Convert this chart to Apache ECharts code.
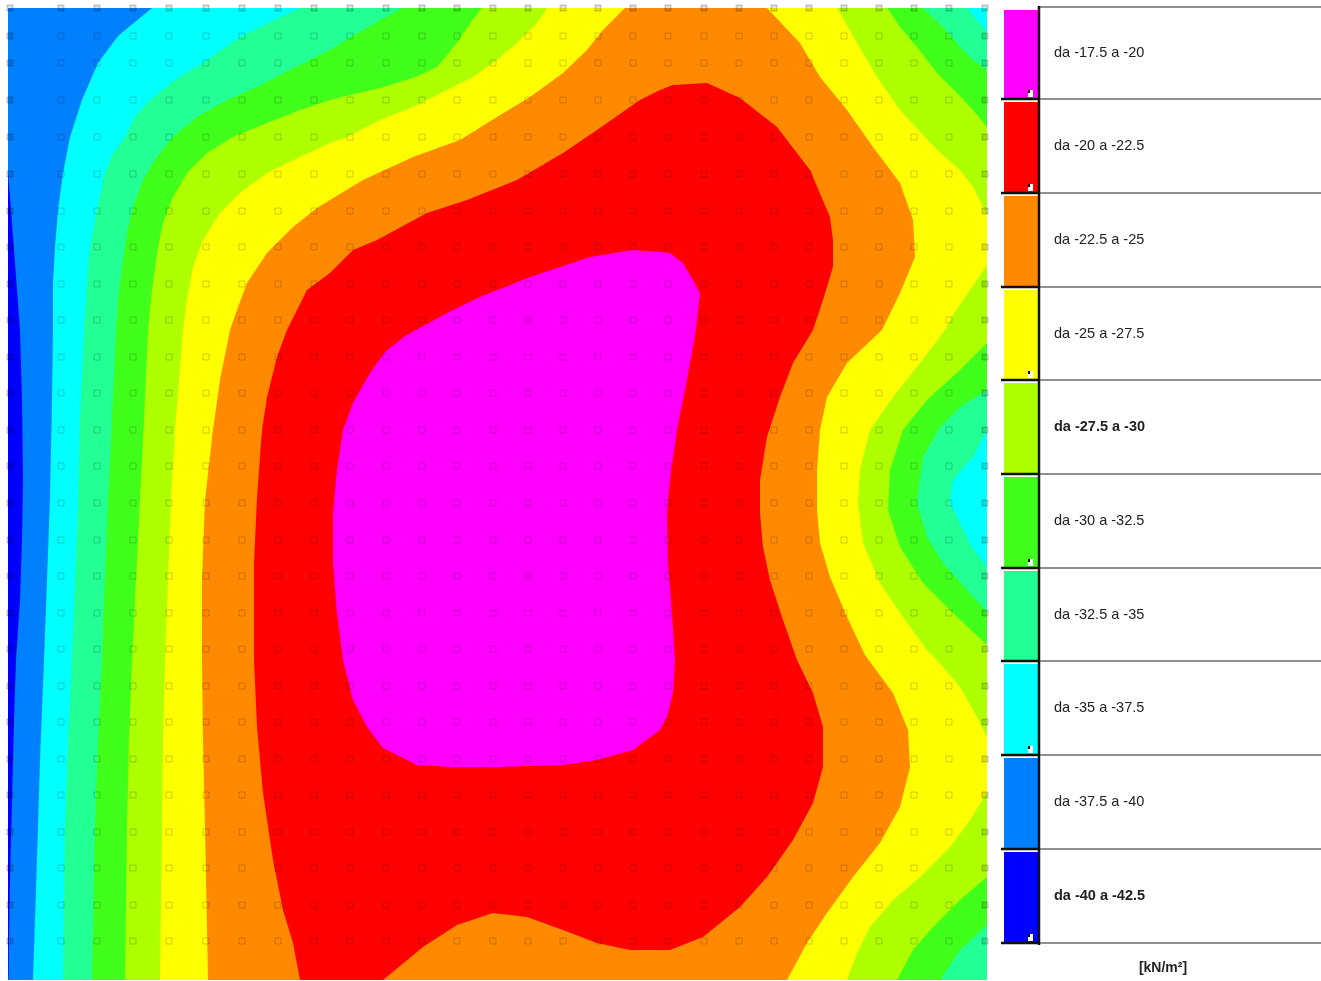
<!DOCTYPE html>
<html>
<head>
<meta charset="utf-8">
<title>Pressioni [kN/m²]</title>
<script src="https://cdn.jsdelivr.net/npm/echarts@6.0.0/dist/echarts.min.js"></script>
<style>
  html, body { margin: 0; padding: 0; background: #fff; }
  #main { width: 1321px; height: 981px; }
</style>
</head>
<body>
<div id="main"></div>
<script>
// bands, lowest value first
const bandColors = ['#0000ff', '#0080ff', '#00ffff', '#22ff95', '#40ff1a', '#aeff00', '#ffff00', '#ff8a00', '#ff0000', '#ff00ff'];
const bandLabels = ['da -40 a -42.5', 'da -37.5 a -40', 'da -35 a -37.5', 'da -32.5 a -35', 'da -30 a -32.5',
  'da -27.5 a -30', 'da -25 a -27.5', 'da -22.5 a -25', 'da -20 a -22.5', 'da -17.5 a -20'];
const boldBands = [0, 5];
const flaggedBands = [0, 2, 4, 6, 8, 9];
const unitLabel = '[kN/m²]';

// plate outline (plate units, y downwards)
const plateX = [8, 987];
const plateY = [8, 980];

// iso lines, left branch read top -> bottom
const left40 = [[8, 8], [8, 172], [11, 210], [14, 250], [17, 290], [20, 330], [22, 400], [23, 480], [22, 540], [20, 600],
  [16, 660], [14, 720], [12, 800], [10, 880], [9, 940], [8.5, 980]];
const left375 = [[152, 8], [135, 22], [118, 36], [98, 63], [82, 100], [70, 137], [63, 173], [58, 210], [55, 247], [53, 283],
  [53, 330], [52, 400], [50, 497], [47, 580], [44, 660], [40, 760], [38, 827], [35, 920], [33, 980]];
const left35 = [[300, 8], [270, 22], [240, 37], [203, 63], [175, 80], [150, 100], [135, 117], [125, 137], [112, 155],
  [105, 173], [97, 210], [90, 247], [87, 283], [84, 330], [80, 420], [78, 500], [75, 580], [72, 660], [68, 740], [65, 827], [63, 980]];
const left325 = [[402, 8], [363, 30], [330, 50], [290, 70], [257, 87], [227, 100], [197, 117], [173, 137], [157, 157],
  [143, 180], [133, 207], [127, 233], [122, 267], [118, 300], [116, 330], [112, 420], [108, 500], [105, 580], [102, 660],
  [98, 740], [95, 827], [92, 980]];
const left30 = [[482, 8], [470, 23], [457, 43], [437, 67], [413, 78], [380, 88], [350, 95], [330, 100], [300, 110],
  [267, 123], [233, 137], [207, 153], [187, 173], [173, 197], [163, 223], [157, 253], [152, 290], [148, 330], [144, 420],
  [140, 500], [136, 580], [132, 660], [129, 740], [127, 827], [125, 980]];
const left275 = [[547, 8], [537, 23], [517, 43], [497, 60], [473, 77], [447, 90], [413, 107], [380, 120], [347, 137],
  [330, 143], [300, 157], [267, 173], [240, 193], [220, 213], [203, 240], [193, 267], [187, 300], [183, 330], [175, 430],
  [171, 500], [168, 580], [165, 660], [163, 740], [162, 827], [160, 980]];
const left25 = [[625, 8], [603, 30], [587, 50], [563, 73], [530, 97], [497, 117], [460, 140], [413, 157], [363, 180],
  [330, 200], [317, 208], [293, 227], [267, 253], [247, 283], [237, 310], [230, 330], [220, 380], [213, 430], [205, 500],
  [202, 580], [202, 660], [203, 740], [205, 827], [208, 980]];

// right branch read top -> bottom (runs along the edge where a band touches it)
const rightEdge = [[987, 8], [987, 980]];
const right35 = [[967, 8], [987, 32], [987, 430], [973, 457], [953, 480], [950, 503], [960, 523], [972, 547], [987, 567], [987, 980]];
const right325 = [[923, 8], [943, 27], [960, 47], [973, 60], [987, 70], [987, 390], [960, 407], [940, 427], [923, 457],
  [917, 503], [927, 537], [943, 563], [967, 590], [987, 612], [987, 925], [960, 950], [940, 980]];
const right30 = [[887, 8], [900, 27], [917, 47], [937, 73], [957, 93], [973, 110], [987, 127], [987, 343], [960, 370],
  [927, 400], [903, 430], [890, 470], [888, 510], [900, 547], [923, 583], [953, 613], [987, 645], [987, 877], [960, 900],
  [933, 927], [913, 950], [897, 980]];
const right275 = [[837, 8], [857, 43], [877, 77], [900, 110], [937, 150], [960, 170], [973, 187], [987, 215], [987, 265],
  [970, 290], [953, 315], [945, 330], [920, 363], [893, 397], [870, 430], [860, 470], [858, 503], [863, 543], [880, 583],
  [903, 617], [927, 650], [937, 660], [960, 687], [977, 717], [987, 737], [987, 793], [970, 820], [950, 847], [920, 877],
  [893, 900], [870, 927], [857, 953], [847, 980]];
const right25 = [[767, 8], [783, 25], [800, 43], [820, 77], [847, 110], [873, 147], [900, 183], [913, 220], [915, 257],
  [900, 293], [882, 330], [847, 363], [827, 397], [820, 430], [817, 470], [817, 510], [820, 543], [830, 577], [847, 617],
  [865, 655], [893, 693], [908, 730], [910, 767], [900, 807], [880, 843], [853, 877], [827, 913], [807, 943], [787, 980]];

// closed iso lines
const ring225 = [[300, 980], [293, 943], [283, 910], [273, 860], [263, 793], [257, 727], [254, 660], [254, 563], [257, 497],
  [262, 430], [267, 397], [277, 357], [287, 330], [307, 290], [330, 273], [353, 250], [377, 240], [427, 213], [467, 200],
  [517, 180], [563, 153], [597, 130], [640, 100], [660, 90], [673, 85], [707, 83], [740, 98], [777, 127], [810, 170],
  [830, 217], [833, 240], [833, 267], [823, 300], [813, 330], [793, 363], [780, 397], [767, 437], [760, 480], [760, 513],
  [763, 547], [770, 580], [783, 620], [797, 660], [813, 693], [823, 727], [823, 767], [813, 803], [793, 840], [767, 877],
  [740, 907], [703, 937], [670, 950], [630, 950], [597, 943], [563, 930], [527, 917], [493, 913], [457, 925], [423, 947],
  [383, 980]];
const ring20 = [[425, 325], [447, 313], [480, 297], [530, 277], [590, 257], [633, 250], [660, 252], [670, 253], [683, 263],
  [693, 280], [700, 293], [696, 330], [687, 380], [677, 430], [670, 480], [667, 513], [668, 563], [672, 613], [675, 660],
  [673, 693], [667, 717], [660, 730], [633, 750], [597, 760], [563, 765], [497, 767], [453, 767], [417, 765], [383, 748],
  [367, 727], [353, 700], [343, 660], [337, 613], [333, 563], [333, 513], [337, 470], [343, 430], [353, 403], [370, 373],
  [385, 352], [405, 336]];

// mesh nodes
const nodeX = [10, 61, 97, 133, 169, 206, 242, 278, 314, 350, 386, 422, 457, 493, 528, 563, 598, 633, 668, 704, 739, 774,
  809, 844, 879, 914, 949, 985];
const nodeY = [8, 36, 63, 100, 137, 174, 211, 247, 284, 320, 357, 393, 430, 466, 503, 540, 576, 613, 649, 686, 722, 759,
  795, 832, 868, 905, 941];

// superlevel regions, painted from the lowest band up
const band = (left, right) => left.concat(right.slice().reverse());
const regions = [
  [[plateX[0], plateY[0]], [plateX[0], plateY[1]], [plateX[1], plateY[1]], [plateX[1], plateY[0]]],
  band(left40, rightEdge),
  band(left375, rightEdge),
  band(left35, right35),
  band(left325, right325),
  band(left30, right30),
  band(left275, right275),
  band(left25, right25),
  ring225,
  ring20
];

const innerNodes = [];
const edgeNodes = [];
nodeY.forEach((y, j) => nodeX.forEach((x, i) => {
  (j === 0 || i === 0 || i === nodeX.length - 1 ? edgeNodes : innerNodes).push([x, y]);
}));

const series = regions.map((pts, k) => ({
  type: 'custom',
  coordinateSystem: 'cartesian2d',
  silent: true,
  z: 1,
  data: [pts[0]],
  renderItem: (params, api) => ({
    type: 'polygon',
    shape: { points: pts.map(p => api.coord(p)) },
    style: { fill: bandColors[k] }
  })
}));
series.push({
  type: 'scatter', data: innerNodes, symbol: 'rect', symbolSize: 6, silent: true, clip: false, z: 5,
  itemStyle: { color: 'rgba(0,0,0,0)', borderColor: 'rgba(0,0,0,0.24)', borderWidth: 1 }
});
series.push({
  type: 'scatter', data: edgeNodes, symbol: 'rect', symbolSize: 6, silent: true, clip: false, z: 5,
  itemStyle: { color: 'rgba(0,0,0,0.16)', borderColor: 'rgba(0,0,0,0.28)', borderWidth: 1 }
});

// legend table
const rowLines = [7, 99, 193, 287, 380, 474, 568, 661, 755, 849, 943];
const font = '"Liberation Sans", Arial, sans-serif';
const graphic = [];
for (let i = 0; i < 10; i++) {
  const b = 9 - i;
  const y0 = rowLines[i], y1 = rowLines[i + 1];
  graphic.push({
    type: 'rect', shape: { x: 1004, y: y0 + 3, width: 34, height: y1 - y0 - 4 },
    style: { fill: bandColors[b] }
  });
  if (flaggedBands.includes(b)) {
    graphic.push({ type: 'rect', shape: { x: 1028, y: y1 - 9, width: 5, height: 7 }, style: { fill: '#fff' } });
    graphic.push({ type: 'rect', shape: { x: 1028, y: y1 - 9, width: 2, height: 3 }, style: { fill: '#000' } });
  }
  graphic.push({
    type: 'text', x: 1054, y: (y0 + y1) / 2,
    style: {
      text: bandLabels[b], fill: '#222', align: 'left', verticalAlign: 'middle',
      font: (boldBands.includes(b) ? 'bold ' : '') + '14.5px ' + font
    }
  });
}
rowLines.forEach((y, i) => {
  if (i > 0) {
    graphic.push({ type: 'line', shape: { x1: 1001, y1: y, x2: 1040, y2: y }, style: { stroke: '#111', lineWidth: 2.5 } });
  }
  graphic.push({ type: 'line', shape: { x1: 1039, y1: y, x2: 1321, y2: y }, style: { stroke: '#222', lineWidth: 1.2 } });
});
graphic.push({ type: 'line', shape: { x1: 1039, y1: 6, x2: 1039, y2: 945 }, style: { stroke: '#111', lineWidth: 2.5 } });
graphic.push({
  type: 'text', x: 1163, y: 968,
  style: { text: unitLabel, fill: '#222', align: 'center', verticalAlign: 'middle', font: 'bold 14px ' + font }
});

const myChart = echarts.init(document.getElementById('main'));
const chartOpts = {
  animation: false,
  backgroundColor: '#fff',
  grid: { left: plateX[0], top: plateY[0], width: plateX[1] - plateX[0], height: plateY[1] - plateY[0] },
  xAxis: { type: 'value', min: plateX[0], max: plateX[1], show: false },
  yAxis: { type: 'value', min: plateY[0], max: plateY[1], inverse: true, show: false },
  series: series,
  graphic: graphic
};
myChart.setOption(chartOpts);
</script>
</body>
</html>
